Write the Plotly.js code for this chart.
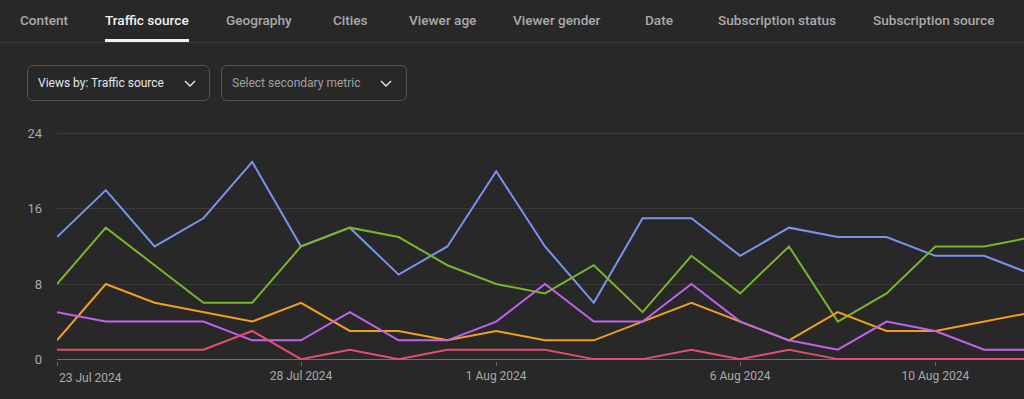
<!DOCTYPE html>
<html>
<head>
<meta charset="utf-8">
<script src="https://cdn.plot.ly/plotly-3.0.1.min.js"></script>
<style>
  html, body { margin: 0; padding: 0; background: #282828; width: 1024px; height: 399px; overflow: hidden; font-family: Roboto, "Noto Sans", sans-serif; }
  #chart { position: absolute; left: 0; top: 0; width: 1024px; height: 399px; }
  .tab { position: absolute; top: 11px; font-size: 13.6px; font-weight: 500; color: #aaaaaa; white-space: nowrap; line-height: 18px; }
  .tab.active { color: #f1f1f1; }
  #underline { position: absolute; left: 105px; width: 84px; top: 39px; height: 3px; background: #f1f1f1; }
  #sep { position: absolute; left: 0; width: 1024px; top: 42px; height: 1px; background: #3a3a3a; }
  .dd { position: absolute; top: 65px; height: 34px; border: 1px solid #555555; border-radius: 6px; box-sizing: content-box; }
  .dd span { position: absolute; left: 10px; top: 9px; font-size: 12px; line-height: 16px; white-space: nowrap; }
  .dd svg { position: absolute; top: 14px; }
</style>
</head>
<body>
<div id="chart"></div>
<div id="sep"></div>
<div class="tab" style="left:20px">Content</div>
<div class="tab active" style="left:105px">Traffic source</div>
<div class="tab" style="left:226px">Geography</div>
<div class="tab" style="left:333px">Cities</div>
<div class="tab" style="left:409px">Viewer age</div>
<div class="tab" style="left:513px">Viewer gender</div>
<div class="tab" style="left:645px">Date</div>
<div class="tab" style="left:718px">Subscription status</div>
<div class="tab" style="left:873px">Subscription source</div>
<div id="underline"></div>
<div class="dd" style="left:27px; width:181px;">
  <span style="color:#e6e6e6">Views by: Traffic source</span>
  <svg width="12" height="7" style="left:156px"><polyline points="1,1 6,6 11,1" fill="none" stroke="#e6e6e6" stroke-width="1.4"/></svg>
</div>
<div class="dd" style="left:221px; width:184px;">
  <span style="color:#a0a0a0">Select secondary metric</span>
  <svg width="12" height="7" style="left:158px"><polyline points="1,1 6,6 11,1" fill="none" stroke="#e6e6e6" stroke-width="1.4"/></svg>
</div>
<script>
const dates = ["2024-07-23","2024-07-24","2024-07-25","2024-07-26","2024-07-27","2024-07-28","2024-07-29","2024-07-30","2024-07-31","2024-08-01","2024-08-02","2024-08-03","2024-08-04","2024-08-05","2024-08-06","2024-08-07","2024-08-08","2024-08-09","2024-08-10","2024-08-11","2024-08-12"];
const blueVals   = [13,18,12,15,21,12,14,9,12,20,12,6,15,15,11,14,13,13,11,11,9];
const greenVals  = [8,14,10,6,6,12,14,13,10,8,7,10,5,11,7,12,4,7,12,12,13];
const orangeVals = [2,8,6,5,4,6,3,3,2,3,2,2,4,6,4,2,5,3,3,4,5];
const purpleVals = [5,4,4,4,2,2,5,2,2,4,8,4,4,8,4,2,1,4,3,1,1];
const redVals    = [1,1,1,1,3,0,1,0,1,1,1,0,0,1,0,1,0,0,0,0,0];
const seriesColors = ["#7b93ec", "#7ab42c", "#f0a020", "#bf63ee", "#e0506e"];
const xTickVals = ["2024-07-23","2024-07-28","2024-08-01","2024-08-06","2024-08-10"];
const xTickText = ["", "28 Jul 2024", "1 Aug 2024", "6 Aug 2024", "10 Aug 2024"];
const firstTickText = "23 Jul 2024";
const yTicks = [0, 8, 16, 24];

const allSeries = [blueVals, greenVals, orangeVals, purpleVals, redVals];
const traces = allSeries.map((vals, i) => ({
  x: dates, y: vals, type: "scatter", mode: "lines",
  line: { color: seriesColors[i], width: 2 }, hoverinfo: "skip"
}));

const layout = {
  width: 1024, height: 399,
  paper_bgcolor: "#282828", plot_bgcolor: "#282828",
  margin: { l: 57, r: 0, t: 130, b: 38 },
  showlegend: false,
  font: { family: "Roboto, sans-serif", color: "#aaaaaa", size: 12 },
  xaxis: {
    type: "date",
    range: ["2024-07-23", "2024-08-11 19:35"],
    tickvals: xTickVals, ticktext: xTickText,
    ticks: "outside", ticklen: 4, tickcolor: "#666666", tickwidth: 1,
    showgrid: false, zeroline: false, showline: false,
    tickfont: { size: 12, color: "#aaaaaa" }
  },
  yaxis: {
    range: [-0.2, 24.4],
    tickvals: yTicks,
    showgrid: true, gridcolor: "#3b3b3b", gridwidth: 1,
    zeroline: true, zerolinecolor: "#707070", zerolinewidth: 1,
    ticks: "", ticklabelstandoff: 14,
    tickfont: { size: 13, color: "#aaaaaa" }
  },
  annotations: [{
    x: xTickVals[0], xref: "x", y: 0, yref: "paper", yshift: -8,
    text: firstTickText, showarrow: false, xanchor: "left", yanchor: "top",
    font: { size: 12, color: "#aaaaaa" }
  }]
};
Plotly.newPlot("chart", traces, layout, { staticPlot: true, displayModeBar: false });
</script>
</body>
</html>
